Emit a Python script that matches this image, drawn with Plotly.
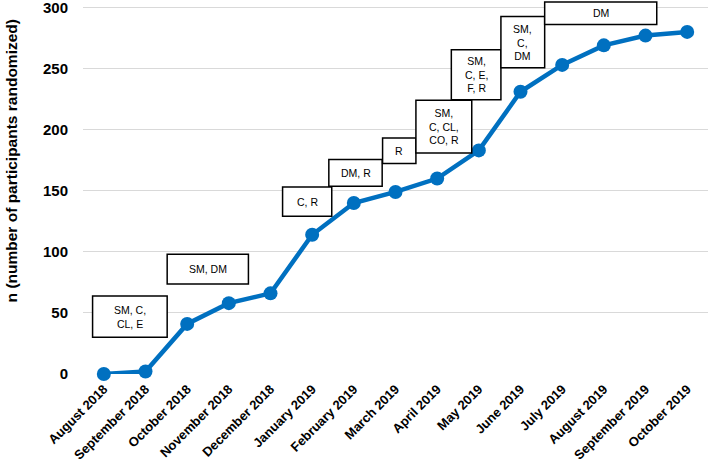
import plotly.graph_objects as go

months = ["August 2018", "September 2018", "October 2018", "November 2018",
          "December 2018", "January 2019", "February 2019", "March 2019",
          "April 2019", "May 2019", "June 2019", "July 2019", "August 2019",
          "September 2019", "October 2019"]
randomized = [0, 2, 41, 58, 66, 114, 140, 149, 160, 183, 231, 253, 269, 277, 280]
y_ticks = [0, 50, 100, 150, 200, 250, 300]

box_labels = ["SM, C,<br>CL, E", "SM, DM", "C, R", "DM, R", "R",
              "SM,<br>C, CL,<br>CO, R", "SM,<br>C, E,<br>F, R", "SM,<br>C,<br>DM", "DM"]

# box extents: (x0, x1) in category-index units, (y0, y1) in data units
box_extents = [(-0.27, 1.52, 30, 63.8), (1.52, 3.47, 73.6, 98.1),
               (4.29, 5.47, 129.2, 153.1), (5.40, 6.68, 153.7, 175.5),
               (6.69, 7.49, 172.2, 193.2), (7.49, 8.83, 180.9, 224),
               (8.34, 9.53, 224.5, 265.4), (9.53, 10.58, 250.7, 292.6),
               (10.58, 13.27, 286.1, 304.5)]

BLUE = "#0070C0"
FONT = "Liberation Sans, Arial, sans-serif"

fig = go.Figure()
fig.add_trace(go.Scatter(
    x=months, y=randomized, mode="lines+markers",
    line=dict(color=BLUE, width=4.5),
    marker=dict(color=BLUE, size=14),
    showlegend=False, cliponaxis=False,
))

shapes = []
annotations = []
for label, (x0, x1, y0, y1) in zip(box_labels, box_extents):
    shapes.append(dict(type="rect", xref="x", yref="y", x0=x0, x1=x1, y0=y0, y1=y1,
                       line=dict(color="black", width=1.5), fillcolor="white",
                       layer="above"))
    annotations.append(dict(xref="x", yref="y", x=(x0 + x1) / 2, y=(y0 + y1) / 2,
                            text=label, showarrow=False,
                            font=dict(family=FONT, size=10.5, color="black")))

annotations.append(dict(xref="paper", yref="paper", x=-0.1152, y=0.570,
                        text="n (number of participants randomized)", textangle=-90,
                        showarrow=False, xanchor="center", yanchor="middle",
                        font=dict(family=FONT, size=15.5, color="black", weight="bold")))

fig.update_layout(
    width=708, height=459,
    margin=dict(l=83, r=0, t=1, b=85, autoexpand=False),
    paper_bgcolor="white", plot_bgcolor="white",
    shapes=shapes, annotations=annotations,
    font=dict(family=FONT, color="black"),
)
fig.update_xaxes(
    type="category", range=[-0.5, 14.5], tickangle=-45, automargin=False,
    tickfont=dict(family=FONT, size=13, color="black", weight="bold"),
    showgrid=False, showline=False, zeroline=False, ticks="",
    ticklabelstandoff=4, ticklabeloverflow="allow",
)
fig.update_yaxes(
    range=[0, 305.3], tickmode="array", tickvals=y_ticks, ticktext=[str(v) for v in y_ticks],
    automargin=False, ticklabeloverflow="allow",
    tickfont=dict(family=FONT, size=15, color="black", weight="bold"),
    showgrid=True, gridcolor="#d9d9d9", gridwidth=1.2,
    zeroline=False, showline=False, ticks="", ticklabelstandoff=14,
)

fig.write_html("out.html", config={"displayModeBar": False},
               post_script="document.body.style.margin='0';")
